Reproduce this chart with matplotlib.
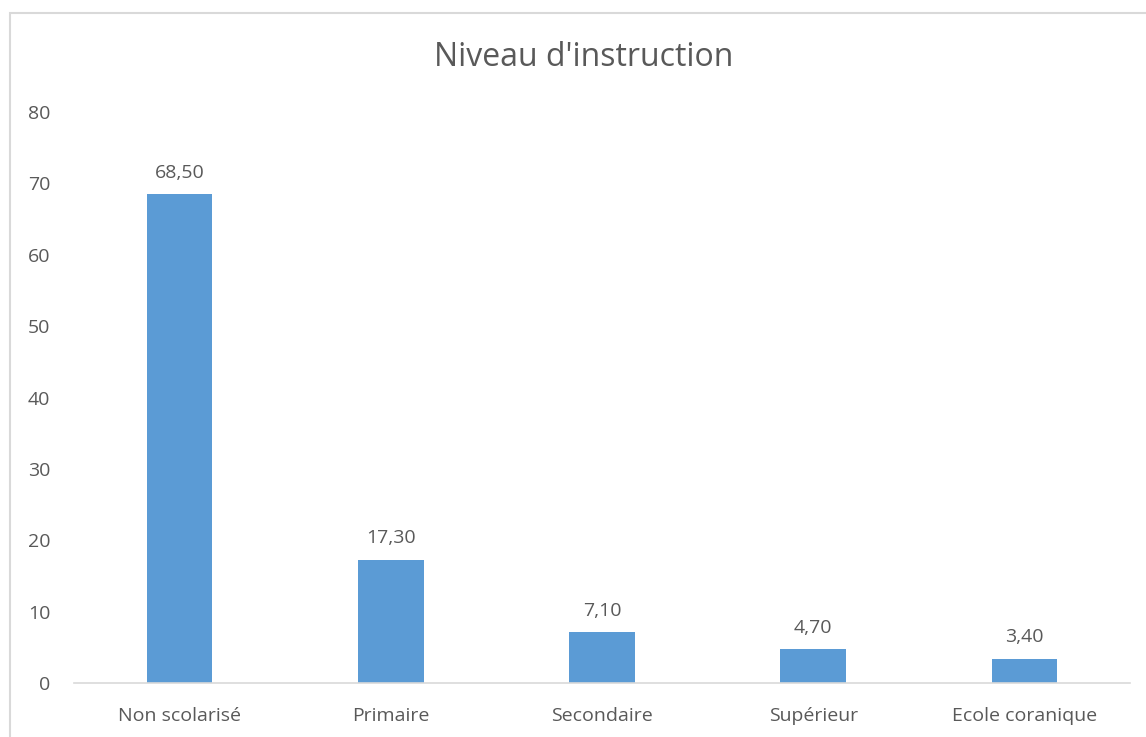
import matplotlib.pyplot as plt
from matplotlib.patches import Rectangle

categories = ["Non scolarisé", "Primaire", "Secondaire", "Supérieur", "Ecole coranique"]
values = [68.50, 17.30, 7.10, 4.70, 3.40]
y_ticks = [0, 10, 20, 30, 40, 50, 60, 70, 80]

TEXT = "#595959"
GRID = "#D9D9D9"
BAR = "#5B9BD5"

plt.rcParams["font.family"] = ["Open Sans", "DejaVu Sans"]

fig = plt.figure(figsize=(11.46, 7.37), dpi=100)
ax = fig.add_axes([0.0646, 0.0733, 0.9214, 0.7747])

x = list(range(len(categories)))
bars = ax.bar(x, values, width=0.31, color=BAR, zorder=2)

for b, v in zip(bars, values):
    ax.annotate(f"{v:.2f}".replace(".", ","),
                (b.get_x() + b.get_width() / 2, v),
                xytext=(0, 9), textcoords="offset points",
                ha="center", va="bottom", fontsize=14, color=TEXT)

ax.set_xlim(-0.5, len(categories) - 0.5)
ax.set_ylim(0, 80)
ax.set_yticks(y_ticks)
ax.set_xticks(x)
ax.set_xticklabels(categories)
ax.tick_params(axis="both", length=0, labelsize=14, colors=TEXT)
ax.tick_params(axis="y", pad=17)
ax.tick_params(axis="x", pad=17)

for side in ["left", "right", "top"]:
    ax.spines[side].set_visible(False)
ax.spines["bottom"].set_color(GRID)
ax.spines["bottom"].set_linewidth(1.2)

fig.text(0.509, 0.922, "Niveau d'instruction", ha="center", va="center",
         fontsize=23, color=TEXT)

# chart area border (cropped on right and bottom in the original)
fig.patches.append(Rectangle((10 / 1146, -0.1), 1.2, 1.1 - 12.5 / 737,
                             transform=fig.transFigure, fill=False,
                             edgecolor=GRID, linewidth=1.5))

fig.savefig("out.png", dpi=100)
